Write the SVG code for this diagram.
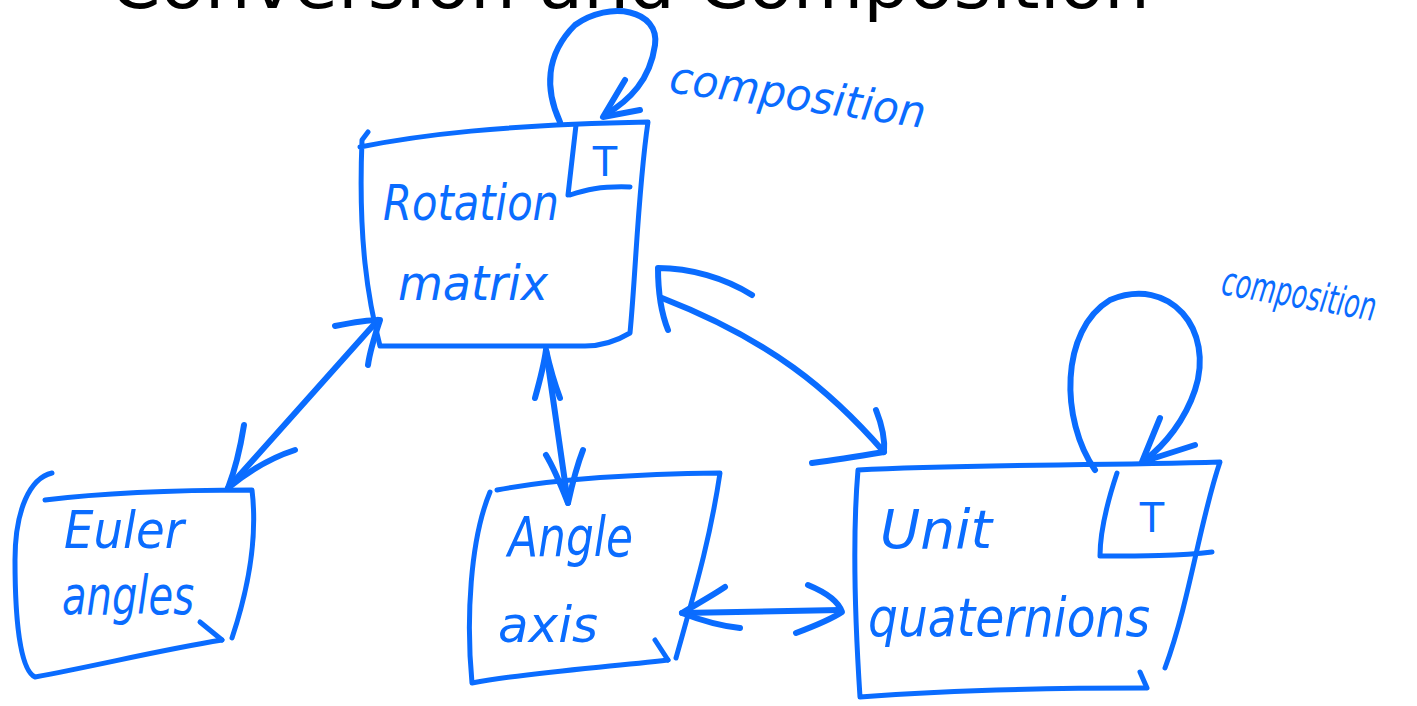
<svg xmlns="http://www.w3.org/2000/svg" width="1417" height="706" viewBox="0 0 1417 706">
<style>
.s{fill:none;stroke:#0a6cff;stroke-width:5;stroke-linecap:round;stroke-linejoin:round}
.t{fill:none;stroke:#0a6cff;stroke-width:6;stroke-linecap:round;stroke-linejoin:round}
.h{fill:#0a6cff;font-family:"DejaVu Sans",sans-serif;font-style:italic}
.T{fill:#0a6cff;font-family:"DejaVu Sans",sans-serif;font-size:40px;text-anchor:middle}
.title{fill:#000;font-family:"DejaVu Sans",sans-serif;font-size:70px}
</style>
<rect width="1417" height="706" fill="#fff"/>
<text class="title" x="630" y="8" text-anchor="middle" textLength="1040" lengthAdjust="spacingAndGlyphs">Conversion and Composition</text>

<g id="rotation-matrix">
<path class="s" d="M360,147 C420,135 500,125 648,122 C638,190 636,270 630,333 C615,342 600,346 585,346 L380,346 C368,300 358,240 362,140 L368,132"/>
<path class="s" d="M570,195 C585,190 600,186 630,187 M576,125 L568,195"/>
<text class="T" x="605" y="176">T</text>
<text class="h" x="383" y="220" font-size="50" textLength="176" lengthAdjust="spacingAndGlyphs">Rotation</text>
<text class="h" x="398" y="300" font-size="48" textLength="150" lengthAdjust="spacingAndGlyphs">matrix</text>
</g>

<g id="euler-angles">
<path class="s" d="M45,500 C110,492 180,490 252,490 C258,540 248,590 232,638 M222,640 C160,650 100,665 35,677 C20,670 15,620 15,560 C15,510 30,478 52,473"/>
<path class="s" d="M200,622 L222,640"/>
<text class="h" x="64" y="548" font-size="52" textLength="120" lengthAdjust="spacingAndGlyphs">Euler</text>
<text class="h" x="62" y="614" font-size="54" textLength="132" lengthAdjust="spacingAndGlyphs">angles</text>
</g>

<g id="angle-axis">
<path class="s" d="M497,490 C560,478 640,474 720,473 C710,540 695,590 676,658 M668,660 C600,668 530,672 472,683 C466,620 470,540 490,492"/>
<path class="s" d="M655,640 L668,660"/>
<text class="h" x="508" y="556" font-size="56" textLength="125" lengthAdjust="spacingAndGlyphs">Angle</text>
<text class="h" x="498" y="642" font-size="50" textLength="100" lengthAdjust="spacingAndGlyphs">axis</text>
</g>

<g id="unit-quaternions">
<path class="s" d="M858,470 C960,464 1090,466 1220,462 C1200,520 1190,600 1165,668 M1145,688 C1040,688 950,690 860,697 C855,620 852,540 858,470"/>
<path class="s" d="M1140,672 L1147,688"/>
<path class="s" d="M1117,473 C1108,500 1100,530 1100,556 C1140,556 1180,556 1212,552"/>
<text class="T" x="1152" y="532">T</text>
<text class="h" x="880" y="548" font-size="54" textLength="112" lengthAdjust="spacingAndGlyphs">Unit</text>
<text class="h" x="868" y="636" font-size="54" textLength="282" lengthAdjust="spacingAndGlyphs">quaternions</text>
</g>

<g id="connectors">
<path class="t" d="M560,122 C545,90 545,55 575,25 C610,0 660,10 655,45 C650,80 630,100 605,115"/>
<path class="t" d="M625,80 L603,117 L640,110"/>
<text class="h" x="668" y="92" font-size="44" transform="rotate(8 668 92)" textLength="258" lengthAdjust="spacingAndGlyphs">composition</text>

<path class="t" d="M1095,470 C1060,420 1060,330 1110,300 C1170,275 1215,330 1195,390 C1185,420 1165,445 1145,460"/>
<path class="t" d="M1160,418 L1142,462 L1195,445"/>
<text class="h" x="0" y="0" font-size="40" transform="translate(1220 294) rotate(10) scale(0.64 1)">composition</text>

<path class="t" d="M228,488 L378,320"/>
<path class="t" d="M244,425 C240,450 235,470 228,488 C250,470 270,458 295,450"/>
<path class="t" d="M335,326 C350,323 365,320 380,320 C375,335 370,350 368,365"/>

<path class="t" d="M546,350 L568,503"/>
<path class="t" d="M535,398 C540,380 544,365 546,350 C550,368 555,385 560,398"/>
<path class="t" d="M546,455 C555,470 562,488 568,503 C572,485 576,468 583,450"/>

<path class="t" d="M662,298 C770,340 830,390 884,452"/>
<path class="t" d="M668,330 C660,310 658,290 658,268 C690,268 725,278 752,295"/>
<path class="t" d="M812,463 C835,460 860,456 884,452 C885,440 882,425 876,410"/>

<path class="t" d="M682,613 L840,610"/>
<path class="t" d="M725,587 C710,597 695,605 682,613 C700,620 720,626 740,628"/>
<path class="t" d="M808,585 C825,592 838,600 842,612 C830,620 812,627 796,633"/>
</g>
</svg>
